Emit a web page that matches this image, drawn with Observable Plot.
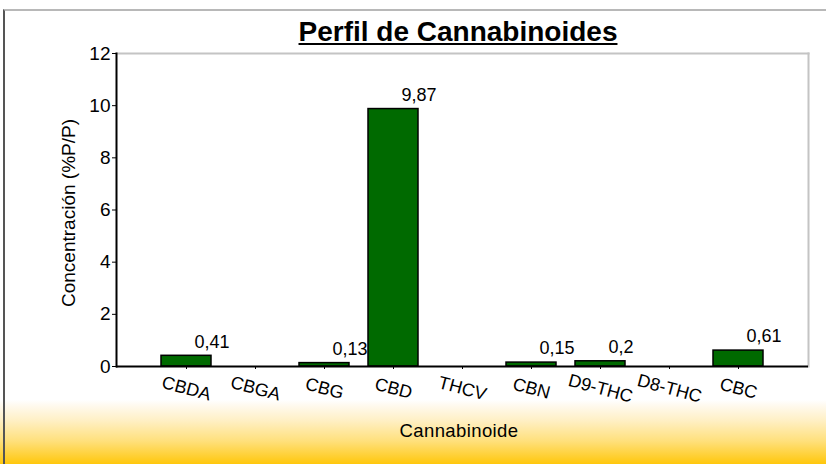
<!DOCTYPE html>
<html>
<head>
<meta charset="utf-8">
<script src="https://cdn.jsdelivr.net/npm/d3@7"></script>
<script src="https://cdn.jsdelivr.net/npm/@observablehq/plot@0.6"></script>
<style>
html, body { margin: 0; padding: 0; background: #fff; }
#wrap {
  position: relative; width: 826px; height: 464px; overflow: hidden;
  font-family: "Liberation Sans", Arial, sans-serif; color: #000;
  background: linear-gradient(to bottom, #ffffff 0px, #ffffff 400px, #fffaf0 405px, #fff0c6 420px, #ffe07c 441px, #ffc70c 464px);
}
#border { position: absolute; left: 3px; top: 9px; right: 0; bottom: 0; border-left: 2px solid #555; border-top: 2px solid #b8b8b8; }
#chart { position: absolute; left: 0; top: 0; }
#chart svg { background: transparent; display: block; }
#chart g[aria-label="y-axis tick label"] { font-size: 19px; }
#title { position: absolute; left: 458px; top: 18px; transform: translateX(-50%); font-weight: bold; font-size: 28px; line-height: 28px; text-decoration: underline; white-space: nowrap; }
#ylabel { position: absolute; left: 68px; top: 213px; transform: translate(-50%, -50%) rotate(-90deg); font-size: 19px; line-height: 19px; white-space: nowrap; }
#xlabel { position: absolute; left: 459px; top: 422px; transform: translateX(-50%); font-size: 18.5px; line-height: 18px; letter-spacing: 0.4px; white-space: nowrap; }
</style>
</head>
<body>
<div id="wrap">
  <div id="border"></div>
  <div id="chart"></div>
  <div id="title">Perfil de Cannabinoides</div>
  <div id="ylabel">Concentración (%P/P)</div>
  <div id="xlabel">Cannabinoide</div>
</div>
<script>
const categories = ["CBDA", "CBGA", "CBG", "CBD", "THCV", "CBN", "D9-THC", "D8-THC", "CBC"];
const values = [0.41, 0, 0.13, 9.87, 0, 0.15, 0.2, 0, 0.61];
const yTicks = [0, 2, 4, 6, 8, 10, 12];

const data = categories.map((c, i) => ({c, v: values[i]}));
const shown = data.filter(d => d.v > 0);
const fmt = v => String(v).replace(".", ",");

const chart = Plot.plot({
  width: 826,
  height: 464,
  marginLeft: 116,
  marginRight: 18,
  marginTop: 53,
  marginBottom: 98,
  style: {background: "transparent", fontFamily: "Liberation Sans, Arial, sans-serif", color: "#000"},
  x: {type: "band", domain: categories, paddingInner: 0.28, paddingOuter: 0.64, label: null},
  y: {domain: [0, 12], label: null},
  marks: [
    Plot.frame({anchor: "top", stroke: "#c4c4c4", strokeWidth: 2}),
    Plot.frame({anchor: "right", stroke: "#c4c4c4", strokeWidth: 2}),
    Plot.text(shown, {x: "c", y: "v", text: d => fmt(d.v), textAnchor: "start", dx: 8, dy: -14, fontSize: 18, fill: "#000"}),
    Plot.barY(shown, {x: "c", y: "v", fill: "#006a00", stroke: "#000", strokeWidth: 1.5}),
    Plot.ruleY([0], {stroke: "#000", strokeWidth: 2}),
    Plot.frame({anchor: "left", stroke: "#000", strokeWidth: 2}),
    Plot.axisY({ticks: yTicks, tickSize: 4, tickPadding: 2, fontSize: 19, tickFormat: d => String(d), label: null}),
    Plot.axisX({tickSize: 3, tickPadding: 19, tickRotate: 15, textAnchor: "middle", lineAnchor: "middle", fontSize: 18, label: null})
  ]
});
document.getElementById("chart").appendChild(chart);
</script>
</body>
</html>
